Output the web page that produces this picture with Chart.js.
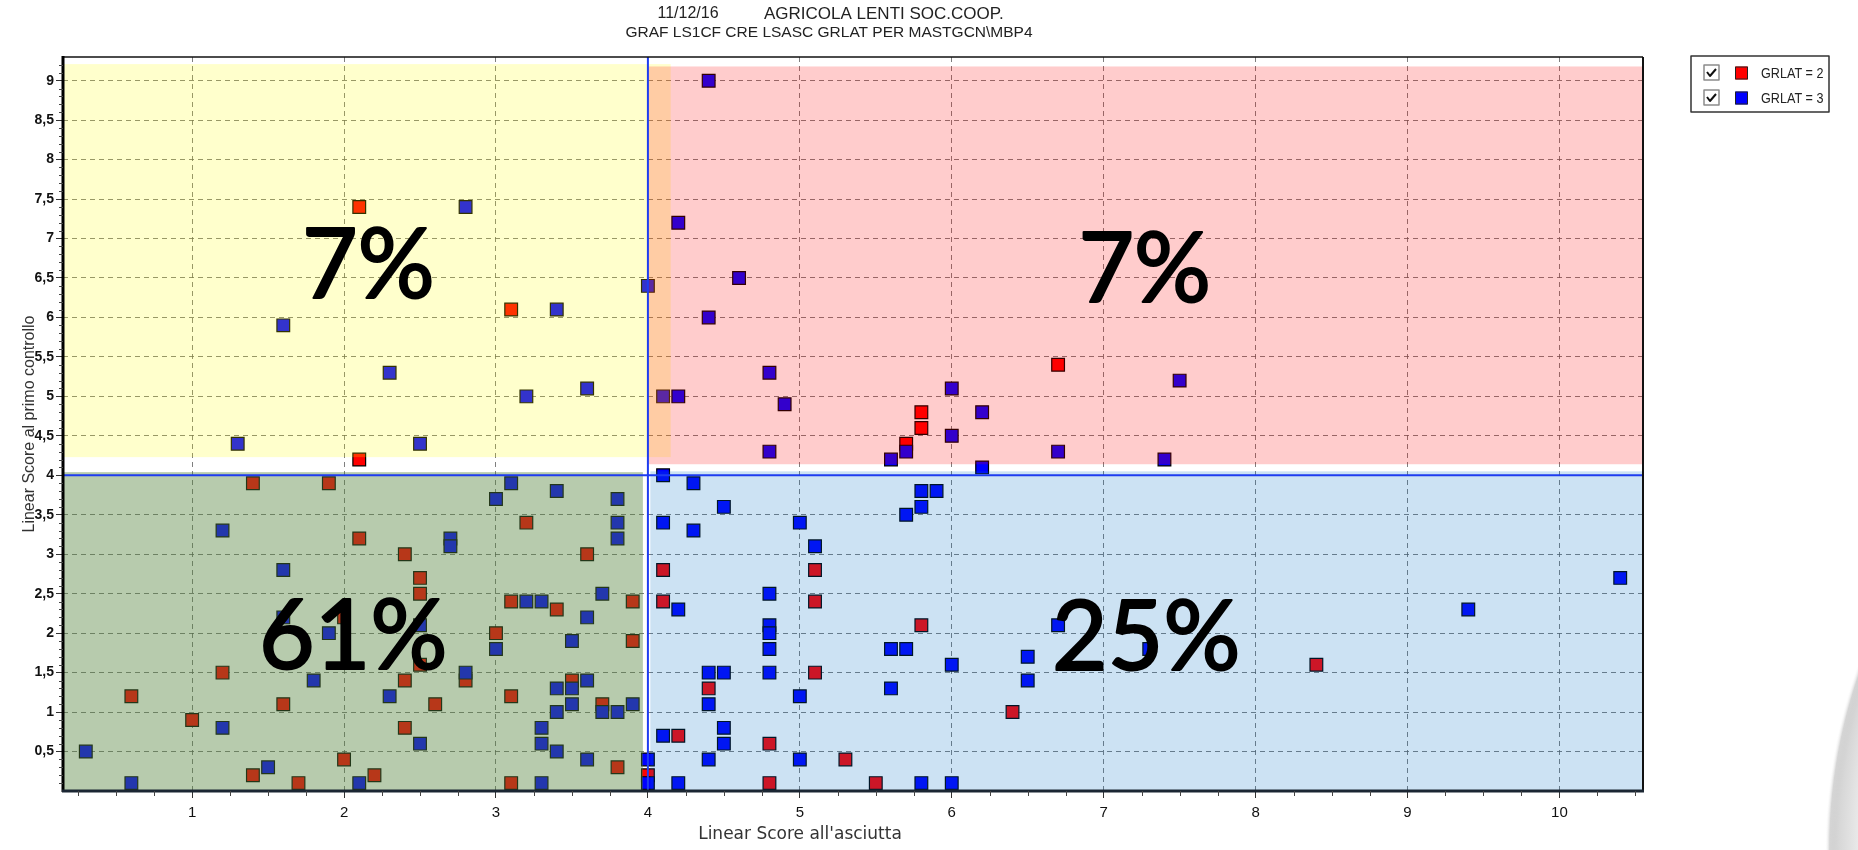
<!DOCTYPE html>
<html lang="it">
<head>
  <meta charset="UTF-8" />
  <title>GRAF LS1CF CRE LSASC GRLAT PER MASTGCN\MBP4</title>
  <script src="https://cdn.jsdelivr.net/npm/chart.js"></script>
  <style>
    * { margin: 0; padding: 0; box-sizing: border-box; }
    body { background: #fff; width: 1858px; height: 850px; overflow: hidden; }
    #wrap { position: relative; width: 1858px; height: 850px; }
  </style>
</head>
<body>
<div id="wrap"><canvas id="grafico" width="1858" height="850"></canvas></div>

<script>
  // testi
  const titoloData = '11/12/16';
  const titoloAzienda = 'AGRICOLA LENTI SOC.COOP.';
  const titolo2 = 'GRAF LS1CF CRE LSASC GRLAT PER MASTGCN\\MBP4';
  const titoloX = "Linear Score all'asciutta";
  const titoloY = 'Linear Score al primo controllo';
  const seriesLabels = ['GRLAT = 2', 'GRLAT = 3'];
  const quadrantLabels = ['7%', '7%', '61%', '25%'];

  // tick
  const xTicks = [1, 2, 3, 4, 5, 6, 7, 8, 9, 10];
  const yTicks = [0.5, 1, 1.5, 2, 2.5, 3, 3.5, 4, 4.5, 5, 5.5, 6, 6.5, 7, 7.5, 8, 8.5, 9];

  // GRLAT = 2 (rossi)
  const grlat2X = [2.1, 3.1, 2.1, 6.7, 5.8, 5.8, 5.7,
    1.4, 1.9, 2.1, 2.0, 1.2, 0.6, 1.6, 1.0, 2.0, 1.4, 2.2, 1.7, 3.2, 2.4, 3.6, 2.5, 2.5, 2.5,
    3.1, 3.4, 3.9, 3.0, 3.9, 2.8, 2.4, 2.6, 3.1, 3.5, 3.7, 2.4, 3.8, 3.1, 4.0,
    4.1, 4.1, 5.1, 5.1, 5.8, 5.1, 4.4, 4.2, 4.8, 5.3, 4.8, 5.5, 6.4, 8.4];
  const grlat2Y = [7.4, 6.1, 4.2, 5.4, 4.8, 4.6, 4.4,
    3.9, 3.9, 3.2, 2.2, 1.5, 1.2, 1.1, 0.9, 0.4, 0.2, 0.2, 0.1, 3.4, 3.0, 3.0, 2.7, 2.5, 1.6,
    2.4, 2.3, 2.4, 2.0, 1.9, 1.4, 1.4, 1.1, 1.2, 1.4, 1.1, 0.8, 0.3, 0.1, 0.2,
    2.8, 2.4, 2.8, 2.4, 2.1, 1.5, 1.3, 0.7, 0.6, 0.4, 0.1, 0.1, 1.0, 1.6];

  // GRLAT = 3 (blu)
  const grlat3X = [2.8, 1.6, 3.4, 2.3, 3.2, 3.6, 1.3, 2.5, 4.0,
    4.4, 4.2, 4.6, 4.4, 4.8, 4.1, 4.2, 4.9, 6.0, 6.2, 6.0, 5.7, 4.8, 5.6, 6.7, 7.4, 7.5, 6.2,
    1.2, 1.6, 1.6, 1.9, 1.8, 2.3, 1.2, 0.3, 1.5, 0.6, 2.1, 3.1, 3.4, 3.8, 3.0, 3.8, 3.8, 2.7, 2.7,
    2.5, 3.2, 3.3, 3.7, 3.6, 3.0, 3.5, 2.8, 3.4, 3.5, 3.6, 3.5, 3.4, 3.7, 3.8, 3.9, 2.5, 3.3, 3.3,
    3.4, 3.6, 3.3, 4.0, 4.0,
    4.1, 4.3, 4.5, 4.1, 4.3, 5.0, 5.1, 5.8, 5.9, 5.8, 5.7, 4.2, 4.8, 4.8, 4.8, 4.8, 5.6, 5.7, 6.0,
    4.4, 4.5, 4.8, 4.4, 5.6, 5.0, 4.1, 4.5, 4.5, 4.4, 5.0, 4.2, 5.8, 6.0, 6.5, 6.5, 6.7, 7.3, 9.4, 10.4];
  const grlat3Y = [7.4, 5.9, 6.1, 5.3, 5.0, 5.1, 4.4, 4.4, 6.4,
    9.0, 7.2, 6.5, 6.0, 5.3, 5.0, 5.0, 4.9, 5.1, 4.8, 4.5, 4.3, 4.3, 4.2, 4.3, 4.2, 5.2, 4.1,
    3.3, 2.8, 2.2, 2.0, 1.4, 1.2, 0.8, 0.5, 0.3, 0.1, 0.1, 3.9, 3.8, 3.7, 3.7, 3.4, 3.2, 3.2, 3.1,
    2.1, 2.4, 2.4, 2.5, 2.2, 1.8, 1.9, 1.5, 1.3, 1.3, 1.4, 1.1, 1.0, 1.0, 1.0, 1.1, 0.6, 0.8, 0.6,
    0.5, 0.4, 0.1, 0.4, 0.1,
    4.0, 3.9, 3.6, 3.4, 3.3, 3.4, 3.1, 3.8, 3.8, 3.6, 3.5, 2.3, 2.5, 2.1, 2.0, 1.8, 1.8, 1.8, 1.6,
    1.5, 1.5, 1.5, 1.1, 1.3, 1.2, 0.7, 0.8, 0.6, 0.4, 0.4, 0.1, 0.1, 0.1, 1.7, 1.4, 2.1, 1.8, 2.3, 2.7];

  // aree colorate (in unita' degli assi) e posizione delle percentuali
  const aree = [
    { x0: 0, x1: 4.15, y0: 4.23, y1: 9.21, color: 'rgba(255,255,0,0.2)' },
    { x0: 4.0, x1: 11, y0: 4.14, y1: 9.18, color: 'rgba(255,0,0,0.2)' },
    { x0: 0, x1: 3.967, y0: 0, y1: 4.04, color: 'rgba(84,132,60,0.42)' },
    { x0: 4.016, x1: 11, y0: 0, y1: 4.05, color: 'rgba(0,110,195,0.2)' }
  ];
  const posPercentuali = [[2.16, 6.25], [7.27, 6.2], [2.06, 1.55], [7.28, 1.53]];

  const FONT = "'Liberation Sans', Arial, sans-serif";
  const fmt = v => String(v).replace('.', ',');
  const toPoints = (xs, ys) => xs.map((x, i) => ({ x: x, y: ys[i] }));

  const quadranti = {
    id: 'quadranti',
    afterDatasetsDraw(chart) {
      const { ctx, chartArea: a, scales: { x, y } } = chart;
      ctx.save();
      ctx.beginPath();
      ctx.rect(a.left, a.top, a.right - a.left, a.bottom - a.top);
      ctx.clip();
      aree.forEach(r => {
        const px0 = x.getPixelForValue(r.x0), px1 = x.getPixelForValue(r.x1);
        const py0 = y.getPixelForValue(r.y0), py1 = y.getPixelForValue(r.y1);
        ctx.fillStyle = r.color;
        ctx.fillRect(px0, py1, px1 - px0, py0 - py1);
      });
      ctx.restore();
    },
    afterDraw(chart) {
      const { ctx, chartArea: a, scales: { x, y } } = chart;
      ctx.save();

      // linee di soglia a 4
      ctx.strokeStyle = '#1e3cf0';
      ctx.lineWidth = 2;
      ctx.beginPath();
      ctx.moveTo(a.left, y.getPixelForValue(4));
      ctx.lineTo(a.right, y.getPixelForValue(4));
      ctx.moveTo(x.getPixelForValue(4), a.top);
      ctx.lineTo(x.getPixelForValue(4), a.bottom);
      ctx.stroke();

      // cornice
      ctx.strokeStyle = '#111';
      ctx.lineWidth = 1.5;
      ctx.beginPath();
      ctx.moveTo(a.left, a.top); ctx.lineTo(a.right, a.top);
      ctx.stroke();
      ctx.lineWidth = 2;
      ctx.beginPath();
      ctx.moveTo(a.right, a.top); ctx.lineTo(a.right, a.bottom);
      ctx.stroke();
      ctx.lineWidth = 3;
      ctx.strokeStyle = '#000';
      ctx.beginPath();
      ctx.moveTo(a.left, a.top - 1); ctx.lineTo(a.left, a.bottom + 1);
      ctx.stroke();
      ctx.strokeStyle = '#1b2633';
      ctx.beginPath();
      ctx.moveTo(a.left - 1, a.bottom); ctx.lineTo(a.right + 1, a.bottom);
      ctx.stroke();

      // tick minori
      ctx.strokeStyle = '#444';
      ctx.lineWidth = 1;
      ctx.beginPath();
      for (let i = 1; i <= 42; i++) {
        if (i % 4 === 0) continue;
        const px = Math.round(x.getPixelForValue(i * 0.25)) + 0.5;
        if (px < a.left || px > a.right) continue;
        ctx.moveTo(px, a.bottom); ctx.lineTo(px, a.bottom + 5);
      }
      for (let i = 1; i <= 92; i++) {
        if (i % 5 === 0) continue;
        const py = Math.round(y.getPixelForValue(i / 10)) + 0.5;
        ctx.moveTo(a.left - 4, py); ctx.lineTo(a.left, py);
      }
      ctx.stroke();

      // percentuali
      ctx.fillStyle = '#000';
      ctx.strokeStyle = '#000';
      ctx.lineWidth = 2.2;
      ctx.lineJoin = 'round';
      ctx.font = "96px Lato, 'Open Sans', sans-serif";
      ctx.textAlign = 'center';
      ctx.textBaseline = 'alphabetic';
      quadrantLabels.forEach((t, i) => {
        const px = x.getPixelForValue(posPercentuali[i][0]);
        const py = y.getPixelForValue(posPercentuali[i][1]);
        ctx.fillText(t, px, py);
        ctx.strokeText(t, px, py);
      });

      // titolo
      ctx.fillStyle = '#222';
      ctx.textBaseline = 'middle';
      ctx.font = '16px ' + FONT;
      ctx.fillText(titoloData, 688, 14);
      ctx.textAlign = 'left';
      ctx.font = '17px ' + FONT;
      ctx.fillText(titoloAzienda, 764, 14);
      ctx.textAlign = 'center';
      ctx.font = '15.5px ' + FONT;
      ctx.fillText(titolo2, 829, 33);

      // titolo asse x
      ctx.fillStyle = '#333';
      ctx.font = "17px 'DejaVu Sans', sans-serif";
      ctx.fillText(titoloX, 800, 835);

      // legenda
      const lx = 1691, ly = 56, lw = 138, lh = 56;
      ctx.strokeStyle = '#333';
      ctx.lineWidth = 1.5;
      ctx.strokeRect(lx, ly, lw, lh);
      chart.data.datasets.forEach((ds, i) => {
        const cy = 73 + i * 25;
        ctx.fillStyle = '#fff';
        ctx.fillRect(1704, cy - 8, 15, 15);
        ctx.strokeStyle = '#8c8c8c';
        ctx.lineWidth = 1.5;
        ctx.strokeRect(1704, cy - 8, 15, 15);
        ctx.strokeStyle = '#111';
        ctx.lineWidth = 2;
        ctx.beginPath();
        ctx.moveTo(1707, cy - 1); ctx.lineTo(1710, cy + 3); ctx.lineTo(1716, cy - 4);
        ctx.stroke();
        ctx.fillStyle = ds.backgroundColor;
        ctx.fillRect(1735, cy - 6.5, 13, 13);
        ctx.strokeStyle = '#222';
        ctx.lineWidth = 1;
        ctx.strokeRect(1735.5, cy - 6, 12, 12);
        ctx.fillStyle = '#222';
        ctx.textAlign = 'left';
        ctx.font = '15px ' + FONT;
        ctx.save();
        ctx.translate(1761, cy + 1);
        ctx.scale(0.84, 1);
        ctx.fillText(ds.label, 0, 0);
        ctx.restore();
      });

      // ombra grigia nell'angolo in basso a destra
      const g = ctx.createRadialGradient(2371, 850, 500, 2371, 850, 546);
      g.addColorStop(0, 'rgba(245,245,245,1)');
      g.addColorStop(0.7, 'rgba(215,215,215,1)');
      g.addColorStop(0.9, 'rgba(185,185,185,0.6)');
      g.addColorStop(1, 'rgba(255,255,255,0)');
      ctx.fillStyle = g;
      ctx.beginPath();
      ctx.arc(2371, 850, 546, 0, Math.PI * 2);
      ctx.fill();
      ctx.restore();
    }
  };

  const datasetBase = {
    pointStyle: 'rect',
    pointRadius: 9,
    pointHoverRadius: 9,
    pointBorderColor: '#000',
    pointBorderWidth: 1.2,
    clip: 0
  };

  new Chart(document.getElementById('grafico'), {
    type: 'scatter',
    data: {
      datasets: [
        Object.assign({}, datasetBase, {
          label: seriesLabels[0],
          data: toPoints(grlat2X, grlat2Y),
          backgroundColor: '#ff0000',
          pointBackgroundColor: '#ff0000',
          order: 2
        }),
        Object.assign({}, datasetBase, {
          label: seriesLabels[1],
          data: toPoints(grlat3X, grlat3Y),
          backgroundColor: '#0000ff',
          pointBackgroundColor: '#0000ff',
          order: 1
        })
      ]
    },
    options: {
      responsive: false,
      animation: false,
      devicePixelRatio: 1,
      events: [],
      layout: { padding: { top: 57, right: 215, left: 0, bottom: 0 } },
      plugins: {
        legend: { display: false },
        title: { display: false },
        tooltip: { enabled: false }
      },
      scales: {
        x: {
          type: 'linear',
          position: 'bottom',
          min: 0.15,
          max: 10.55,
          afterBuildTicks: s => { s.ticks = xTicks.map(v => ({ value: v })); },
          afterFit: s => { s.height = 59; },
          grid: { color: 'rgba(95,95,95,0.8)', lineWidth: 1, tickLength: 7, tickColor: '#333', tickWidth: 1, tickBorderDash: [] },
          border: { display: false, dash: [5, 4] },
          ticks: { autoSkip: false, maxRotation: 0, padding: 6, color: '#111', font: { family: FONT, size: 15 }, callback: v => fmt(v) },
          title: { display: false }
        },
        y: {
          type: 'linear',
          position: 'left',
          min: 0,
          max: 9.3,
          afterBuildTicks: s => { s.ticks = yTicks.map(v => ({ value: v })); },
          afterFit: s => { s.width = 63; },
          grid: { color: 'rgba(95,95,95,0.8)', lineWidth: 1, tickLength: 7, tickColor: '#333', tickWidth: 1, tickBorderDash: [] },
          border: { display: false, dash: [5, 4] },
          ticks: { autoSkip: false, padding: 2, color: '#111', font: { family: FONT, size: 14, weight: 'bold' }, callback: v => fmt(v) },
          title: { display: true, text: titoloY, color: '#333', font: { family: FONT, size: 16 }, padding: { top: 20, bottom: 0 } }
        }
      }
    },
    plugins: [quadranti]
  });
</script>
</body>
</html>
